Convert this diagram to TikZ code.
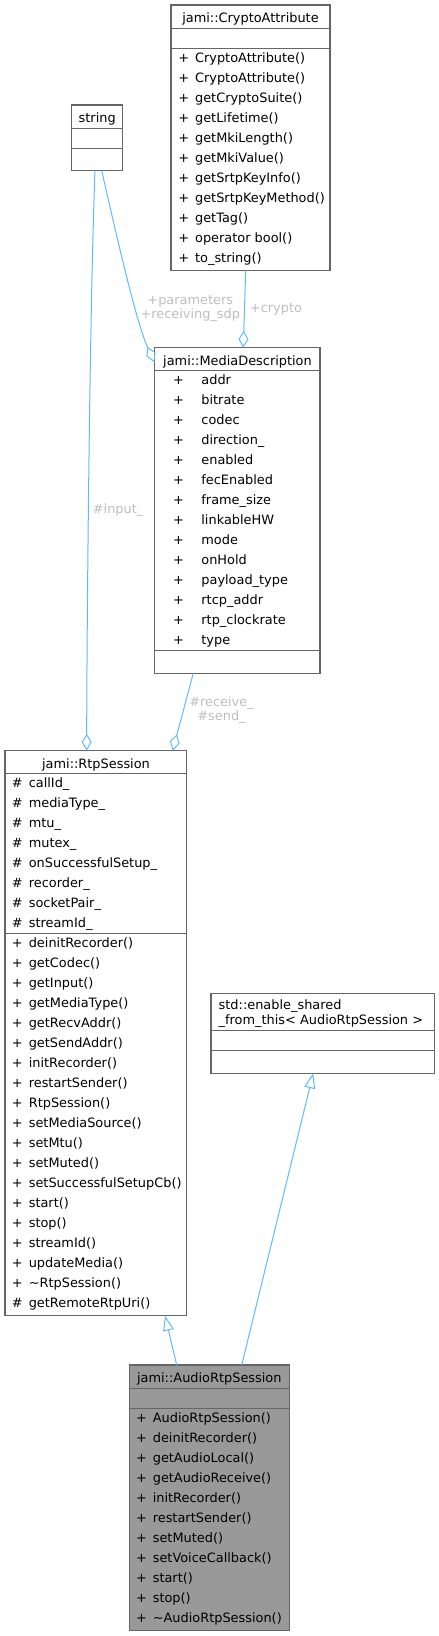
\documentclass[tikz,border=0pt]{standalone}
\usepackage{fontspec}
\setmainfont{DejaVu Sans}
\usetikzlibrary{arrows.meta}
\definecolor{steelblue1}{HTML}{63B8FF}
\definecolor{gray40}{HTML}{666666}
\definecolor{grey60}{HTML}{999999}
\definecolor{labelgrey}{HTML}{BEBEBE}

\begin{document}
\begin{tikzpicture}[x=1pt,y=-1pt,
    every node/.style={inner sep=0pt,outer sep=0pt,font=\fontsize{12.9}{20}\selectfont},
    cls/.style={draw=gray40,line width=1.1pt,fill=white,anchor=north west},
    sep/.style={draw=gray40,line width=1.1pt},
    assoc/.style={draw=steelblue1,line width=1pt,-{Diamond[open,length=17pt,width=10pt]}},
    inherit/.style={draw=steelblue1,line width=1pt,-{Triangle[open,length=15pt,width=11pt]}},
    lbl/.style={text=labelgrey,font=\fontsize{12.9}{14.5}\selectfont}]
  \useasboundingbox (0,0) rectangle (439,1636);

  % class boxes
  \node[cls,minimum width=159pt,minimum height=265.7pt] (1) at (171,5) {};
  \node[cls,minimum width=51pt,minimum height=65.7pt] (2) at (71.7,105) {};
  \node[cls,minimum width=165.5pt,minimum height=325.6pt] (3) at (154.5,347.7) {};
  \node[cls,minimum width=181.7pt,minimum height=565pt] (4) at (5,750.7) {};
  \node[cls,minimum width=223.3pt,minimum height=80pt] (5) at (211,993.3) {};
  \node[cls,fill=grey60,minimum width=160pt,minimum height=265.7pt] (6) at (129.3,1365) {};

  % compartments
  \draw[sep] ([yshift=-23.7pt]1.north west) -- ([yshift=-23.7pt]1.north east);
  \draw[sep] ([yshift=-43.7pt]1.north west) -- ([yshift=-43.7pt]1.north east);
  \draw[sep] ([yshift=-23.7pt]2.north west) -- ([yshift=-23.7pt]2.north east);
  \draw[sep] ([yshift=-43.7pt]2.north west) -- ([yshift=-43.7pt]2.north east);
  \draw[sep] ([yshift=-23pt]3.north west) -- ([yshift=-23pt]3.north east);
  \draw[sep] ([yshift=-303pt]3.north west) -- ([yshift=-303pt]3.north east);
  \draw[sep] ([yshift=-23pt]4.north west) -- ([yshift=-23pt]4.north east);
  \draw[sep] ([yshift=-182.6pt]4.north west) -- ([yshift=-182.6pt]4.north east);
  \draw[sep] ([yshift=-37.4pt]5.north west) -- ([yshift=-37.4pt]5.north east);
  \draw[sep] ([yshift=-57.4pt]5.north west) -- ([yshift=-57.4pt]5.north east);
  \draw[sep] ([yshift=-23.7pt]6.north west) -- ([yshift=-23.7pt]6.north east);
  \draw[sep] ([yshift=-43.7pt]6.north west) -- ([yshift=-43.7pt]6.north east);

  % titles
  \node[anchor=base] (1t) at (250.5,22.5) {jami::CryptoAttribute};
  \node[anchor=base] (2t) at (97.2,122.5) {string};
  \node[anchor=base] (3t) at (237.5,365.2) {jami::MediaDescription};
  \node[anchor=base] (4t) at (96,768.2) {jami::RtpSession};
  \node[anchor=base west] (5t) at (218.7,1009.5) {\fontsize{12.9}{15}\selectfont
    \begin{tabular}[t]{@{}l@{}}std::enable\_shared\\\_from\_this< AudioRtpSession >\end{tabular}};
  \node[anchor=base] (6t) at (209.3,1382.5) {jami::AudioRtpSession};

  % members
  \node[anchor=base west] (1m) at (178.3,62.7) {\begin{tabular}[t]{@{}l@{\hspace{6pt}}l@{}}
    + & CryptoAttribute()\\ + & CryptoAttribute()\\ + & getCryptoSuite()\\
    + & getLifetime()\\ + & getMkiLength()\\ + & getMkiValue()\\
    + & getSrtpKeyInfo()\\ + & getSrtpKeyMethod()\\ + & getTag()\\
    + & operator bool()\\ + & to\_string()
  \end{tabular}};
  \node[anchor=base west] (3m) at (173,384.5) {\begin{tabular}[t]{@{}l@{\hspace{17.6pt}}l@{}}
    + & addr\\ + & bitrate\\ + & codec\\ + & direction\_\\ + & enabled\\
    + & fecEnabled\\ + & frame\_size\\ + & linkableHW\\ + & mode\\
    + & onHold\\ + & payload\_type\\ + & rtcp\_addr\\ + & rtp\_clockrate\\ + & type
  \end{tabular}};
  \node[anchor=base west] (4m) at (12,787) {\begin{tabular}[t]{@{}l@{\hspace{6pt}}l@{}}
    \# & callId\_\\ \# & mediaType\_\\ \# & mtu\_\\ \# & mutex\_\\
    \# & onSuccessfulSetup\_\\ \# & recorder\_\\ \# & socketPair\_\\ \# & streamId\_\\
    + & deinitRecorder()\\ + & getCodec()\\ + & getInput()\\ + & getMediaType()\\
    + & getRecvAddr()\\ + & getSendAddr()\\ + & initRecorder()\\ + & restartSender()\\
    + & RtpSession()\\ + & setMediaSource()\\ + & setMtu()\\ + & setMuted()\\
    + & setSuccessfulSetupCb()\\ + & start()\\ + & stop()\\ + & streamId()\\
    + & updateMedia()\\ + & \textasciitilde RtpSession()\\ \# & getRemoteRtpUri()
  \end{tabular}};
  \node[anchor=base west] (6m) at (136,1422.5) {\begin{tabular}[t]{@{}l@{\hspace{6pt}}l@{}}
    + & AudioRtpSession()\\ + & deinitRecorder()\\ + & getAudioLocal()\\
    + & getAudioReceive()\\ + & initRecorder()\\ + & restartSender()\\
    + & setMuted()\\ + & setVoiceCallback()\\ + & start()\\ + & stop()\\
    + & \textasciitilde AudioRtpSession()
  \end{tabular}};

  % relations
  \draw[assoc] ([xshift=-2.2pt]2.south) .. controls (90,300) and (87,600) ..
    node[lbl,pos=0.587,right=4.5pt] {\#input\_} ([xshift=-9.2pt]4.north);
  \draw[assoc] ([xshift=4.5pt]2.south) .. controls (112,215) and (135,320) ..
    node[lbl,pos=0.69,right=4.7pt] {\begin{tabular}{@{}c@{}}+parameters\\+receiving\_sdp\end{tabular}}
    ([yshift=-14.5pt]3.north west);
  \draw[assoc] ([xshift=-4.8pt]1.south) -- node[lbl,pos=0.5,right=5.5pt] {+crypto} ([xshift=6pt]3.north);
  \draw[assoc] ([xshift=-44pt]3.south) --
    node[lbl,pos=0.483,right=6pt] {\begin{tabular}{@{}c@{}}\#receive\_\\\#send\_\end{tabular}}
    ([xshift=76.8pt]4.north);
  \draw[inherit] ([xshift=-32.6pt]6.north) -- ([xshift=69.2pt]4.south);
  \draw[inherit] ([xshift=32.4pt]6.north) -- ([xshift=-9.4pt]5.south);
\end{tikzpicture}
\end{document}
